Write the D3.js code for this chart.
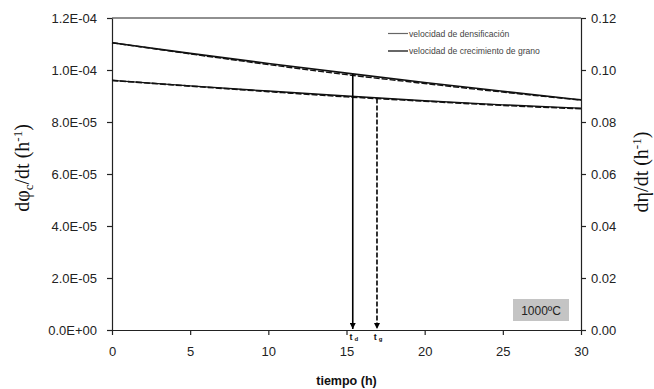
<!DOCTYPE html>
<html><head><meta charset="utf-8">
<script src="https://cdn.jsdelivr.net/npm/d3@7"></script>
<style>body{margin:0;background:#fff}svg{display:block}</style>
</head><body>
<svg id="c" width="654" height="389"></svg>
<script>
const time = [0, 5, 10, 15, 20, 25, 30];
const densUpper = [1.105e-4, 1.064e-4, 1.025e-4, 0.988e-4, 0.952e-4, 0.918e-4, 0.885e-4];
const grainUpper = [0.1105, 0.1062, 0.1021, 0.0982, 0.0948, 0.0915, 0.0884];
const densLower = [0.960e-4, 0.939e-4, 0.919e-4, 0.900e-4, 0.882e-4, 0.866e-4, 0.853e-4];
const grainLower = [0.0960, 0.0938, 0.0917, 0.0897, 0.0880, 0.0864, 0.0851];
const xTicks = [0, 5, 10, 15, 20, 25, 30];
const leftTicks = [0, 2e-5, 4e-5, 6e-5, 8e-5, 1e-4, 1.2e-4];
const leftTickLabels = ["0.0E+00", "2.0E-05", "4.0E-05", "6.0E-05", "8.0E-05", "1.0E-04", "1.2E-04"];
const rightTicks = [0, 0.02, 0.04, 0.06, 0.08, 0.10, 0.12];
const rightTickLabels = ["0.00", "0.02", "0.04", "0.06", "0.08", "0.10", "0.12"];
const tD = 15.4, tG = 16.95;
const legendLabels = ["velocidad de densificación", "velocidad de crecimiento de grano"];

const svg = d3.select("#c");
const L = 112, R = 581, T = 18, B = 330;
const x = d3.scaleLinear().domain([0, 30]).range([L, R]);
const yL = d3.scaleLinear().domain([0, 1.2e-4]).range([B, T]);
const yR = d3.scaleLinear().domain([0, 0.12]).range([B, T]);
const axisCol = "#222";
const font = "Liberation Sans, Arial, sans-serif";

// frame top
svg.append("line").attr("x1", L).attr("x2", R).attr("y1", T).attr("y2", T).attr("stroke", axisCol).attr("stroke-width", 1.2);

const gx = svg.append("g").attr("transform", `translate(0,${B})`)
  .call(d3.axisBottom(x).tickValues(xTicks).tickSize(5).tickSizeOuter(0).tickPadding(12));
const gl = svg.append("g").attr("transform", `translate(${L},0)`)
  .call(d3.axisLeft(yL).tickValues(leftTicks).tickFormat((d, i) => leftTickLabels[i]).tickSize(5).tickSizeOuter(0).tickPadding(10));
const gr = svg.append("g").attr("transform", `translate(${R},0)`)
  .call(d3.axisRight(yR).tickValues(rightTicks).tickFormat((d, i) => rightTickLabels[i]).tickSize(5).tickSizeOuter(0).tickPadding(5));
[gx, gl, gr].forEach(g => {
  g.selectAll("path,line").attr("stroke", axisCol).attr("stroke-width", 1.2);
  g.selectAll("text").attr("fill", "#222").style("font-family", font).style("font-size", "13px");
});

// data lines
const lineL = d3.line().x((d, i) => x(time[i])).y(d => yL(d)).curve(d3.curveMonotoneX);
const lineR = d3.line().x((d, i) => x(time[i])).y(d => yR(d)).curve(d3.curveMonotoneX);
svg.append("path").attr("d", lineL(densUpper)).attr("fill", "none").attr("stroke", "#111").attr("stroke-width", 1.6);
svg.append("path").attr("d", lineR(grainUpper)).attr("fill", "none").attr("stroke", "#111").attr("stroke-width", 1.4).attr("stroke-dasharray", "6,2");
svg.append("path").attr("d", lineL(densLower)).attr("fill", "none").attr("stroke", "#111").attr("stroke-width", 1.4);
svg.append("path").attr("d", lineR(grainLower)).attr("fill", "none").attr("stroke", "#111").attr("stroke-width", 1.6).attr("stroke-dasharray", "6,2");

// arrow marker
const defs = svg.append("defs");
defs.append("marker").attr("id", "arr").attr("viewBox", "0 0 10 10").attr("refX", 10).attr("refY", 5)
  .attr("markerWidth", 6).attr("markerHeight", 6).attr("markerUnits", "userSpaceOnUse").attr("orient", "auto")
  .append("path").attr("d", "M0,0 L10,5 L0,10 z").attr("fill", "#000");

const interp = (arr, t) => {
  const i = Math.min(Math.floor(t / 5), time.length - 2);
  const f = (t - time[i]) / 5;
  return arr[i] + (arr[i + 1] - arr[i]) * f;
};
svg.append("line").attr("x1", x(tD)).attr("x2", x(tD)).attr("y1", yL(interp(densUpper, tD))).attr("y2", B - 1)
  .attr("stroke", "#000").attr("stroke-width", 1.6).attr("marker-end", "url(#arr)");
svg.append("line").attr("x1", x(tG)).attr("x2", x(tG)).attr("y1", yR(interp(grainLower, tG))).attr("y2", B - 1)
  .attr("stroke", "#000").attr("stroke-width", 1.6).attr("stroke-dasharray", "5,2").attr("marker-end", "url(#arr)");

// t_d, t_g labels
[[tD, "d"], [tG, "g"]].forEach(([t, s]) => {
  const tx = svg.append("text").attr("x", x(t) + 1).attr("y", B + 10).attr("text-anchor", "middle")
    .style("font-family", font).style("font-size", "9px").style("font-weight", "bold").attr("fill", "#111");
  tx.append("tspan").text("t");
  tx.append("tspan").attr("dx", 2).attr("dy", 1).style("font-size", "6px").text(s);
});

// legend
legendLabels.forEach((lab, i) => {
  const yy = 33.5 + i * 17.5;
  svg.append("line").attr("x1", 388).attr("x2", 408).attr("y1", yy).attr("y2", yy)
    .attr("stroke", i === 0 ? "#666" : "#000").attr("stroke-width", 1.2);
  svg.append("text").attr("x", 409).attr("y", yy + 3).text(lab)
    .style("font-family", font).style("font-size", "8.6px").attr("fill", "#444");
});

// temperature box
svg.append("rect").attr("x", 513).attr("y", 299).attr("width", 56).attr("height", 22).attr("fill", "#c4c4c4");
svg.append("text").attr("x", 541).attr("y", 314.5).attr("text-anchor", "middle").text("1000ºC")
  .style("font-family", font).style("font-size", "12px").attr("fill", "#222");

// axis titles
svg.append("text").attr("x", (L + R) / 2).attr("y", 385).attr("text-anchor", "middle").text("tiempo (h)")
  .style("font-family", font).style("font-size", "12.5px").style("font-weight", "bold").attr("fill", "#111");

const serif = "Liberation Serif, Times New Roman, serif";
const lt = svg.append("text").attr("transform", "translate(29,168) rotate(-90)").attr("text-anchor", "middle")
  .style("font-family", serif).style("font-size", "20px").attr("fill", "#111");
lt.append("tspan").text("dφ");
lt.append("tspan").attr("dy", 4).style("font-size", "13px").text("c");
lt.append("tspan").attr("dy", -4).text("/dt (h");
lt.append("tspan").attr("dy", -7).style("font-size", "13px").text("-1");
lt.append("tspan").attr("dy", 7).text(")");

const rt = svg.append("text").attr("transform", "translate(648,172) rotate(-90)").attr("text-anchor", "middle")
  .style("font-family", serif).style("font-size", "20px").attr("fill", "#111");
rt.append("tspan").text("dη/dt (h");
rt.append("tspan").attr("dy", -7).style("font-size", "13px").text("-1");
rt.append("tspan").attr("dy", 7).text(")");
</script>
</body></html>
